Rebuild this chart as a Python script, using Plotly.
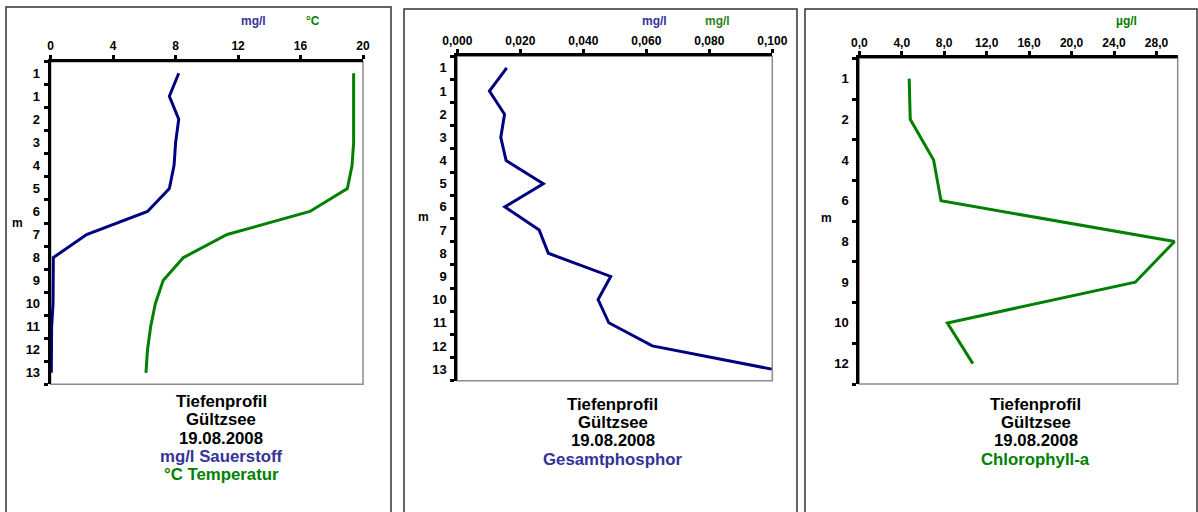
import plotly.graph_objects as go

W, H = 1198, 512

# ---------------- data ----------------
depth_labels_1 = ["1", "1", "2", "3", "4", "5", "6", "7", "8", "9", "10", "11", "12", "13"]
sauerstoff = [8.2, 7.6, 8.2, 8.0, 7.9, 7.6, 6.2, 2.3, 0.17, 0.17, 0.15, 0.06, 0.04, 0.04]
temperatur = [19.4, 19.4, 19.4, 19.4, 19.3, 19.0, 16.6, 11.3, 8.5, 7.2, 6.7, 6.4, 6.2, 6.1]

depth_labels_2 = ["1", "1", "2", "3", "4", "5", "6", "7", "8", "9", "10", "11", "12", "13"]
phosphor = [0.0157, 0.0102, 0.0150, 0.0138, 0.0155, 0.0273, 0.0151, 0.0260, 0.0289,
            0.0487, 0.0447, 0.0481, 0.0619, 0.0998]

depth_labels_3 = ["1", "2", "4", "6", "8", "9", "10", "12"]
chlorophyll = [4.7, 4.8, 7.0, 7.7, 29.7, 26.0, 8.3, 10.7]

x1_ticks = [0, 4, 8, 12, 16, 20]
x2_ticks = [0, 0.02, 0.04, 0.06, 0.08, 0.1]
x3_ticks = [0, 4, 8, 12, 16, 20, 24, 28]

NAVY = "#000080"
GREEN = "#008000"
TXT_BLUE = "#333399"
TXT_GREEN = "#008000"
FONT = "Arial, Liberation Sans, sans-serif"


def px(x):
    return x / W


def py(y):
    return 1 - y / H


fig = go.Figure()

fig.add_trace(go.Scatter(x=sauerstoff, y=list(range(len(depth_labels_1))), mode="lines",
                         line=dict(color=NAVY, width=3), xaxis="x", yaxis="y"))
fig.add_trace(go.Scatter(x=temperatur, y=list(range(len(depth_labels_1))), mode="lines",
                         line=dict(color=GREEN, width=3), xaxis="x", yaxis="y"))
fig.add_trace(go.Scatter(x=phosphor, y=list(range(len(depth_labels_2))), mode="lines",
                         line=dict(color=NAVY, width=3), xaxis="x2", yaxis="y2"))
fig.add_trace(go.Scatter(x=chlorophyll, y=list(range(len(depth_labels_3))), mode="lines",
                         line=dict(color=GREEN, width=3), xaxis="x3", yaxis="y3"))

tickfont = dict(family=FONT, size=12, color="black", weight="bold")


def xaxis(domain, rng, tickvals, fmt, anchor):
    return dict(domain=domain, range=rng, side="top", anchor=anchor, automargin=False,
                tickvals=tickvals, tickformat=fmt,
                showline=True, linecolor="black", linewidth=3,
                ticks="outside", ticklen=4, tickwidth=3, tickcolor="black",
                showgrid=False, zeroline=False, tickfont=tickfont, fixedrange=True)


def yaxis(domain, labels, anchor):
    n = len(labels)
    return dict(domain=domain, range=[n - 0.5, -0.5], anchor=anchor, automargin=False,
                tickvals=list(range(n)), ticktext=labels, ticks="",
                ticklabelstandoff=5,
                minor=dict(tickvals=[i - 0.5 for i in range(n + 1)], ticks="outside",
                           ticklen=4, tickwidth=3, tickcolor="black"),
                showline=True, linecolor="black", linewidth=3,
                showgrid=False, zeroline=False,
                tickfont=dict(family=FONT, size=13, color="black", weight="bold"),
                fixedrange=True)


p1 = dict(x0=50.7, x1=363, y0=61.7, y1=384.3)
p2 = dict(x0=457.3, x1=772.3, y0=56.3, y1=380.7)
p3 = dict(x0=859.3, x1=1177.7, y0=58.3, y1=384.0)

fig.update_layout(
    width=W, height=H, autosize=False, margin=dict(l=0, r=0, t=0, b=0, pad=0),
    paper_bgcolor="white", plot_bgcolor="white", showlegend=False,
    separators=",.",
    xaxis=xaxis([px(p1["x0"]), px(p1["x1"])], [0, 20], x1_ticks, "d", "y"),
    yaxis=yaxis([py(p1["y1"]), py(p1["y0"])], depth_labels_1, "x"),
    xaxis2=xaxis([px(p2["x0"]), px(p2["x1"])], [0, 0.1], x2_ticks, ".3f", "y2"),
    yaxis2=yaxis([py(p2["y1"]), py(p2["y0"])], depth_labels_2, "x2"),
    xaxis3=xaxis([px(p3["x0"]), px(p3["x1"])], [0, 30], x3_ticks, ".1f", "y3"),
    yaxis3=yaxis([py(p3["y1"]), py(p3["y0"])], depth_labels_3, "x3"),
)

shapes = []
# plot-area borders (gray, right & bottom visible)
for xr, yr in [("x", "y"), ("x2", "y2"), ("x3", "y3")]:
    shapes.append(dict(type="rect", xref=f"{xr} domain", yref=f"{yr} domain",
                       x0=0, x1=1, y0=0, y1=1, line=dict(color="#8c8c8c", width=1.5),
                       layer="below"))
# outer panel frames
for (x0, x1, y0) in [(6, 391, 7), (404, 797, 9), (805, 1197, 9)]:
    shapes.append(dict(type="rect", xref="paper", yref="paper",
                       x0=px(x0), x1=px(x1), y0=py(530), y1=py(y0),
                       line=dict(color="#333333", width=1.5), layer="below"))
fig.update_layout(shapes=shapes)

ann = []


def text(x, y, s, color="black", size=12):
    ann.append(dict(x=px(x), y=py(y), xref="paper", yref="paper", text=s, showarrow=False,
                    xanchor="center", yanchor="middle",
                    font=dict(family=FONT, size=size, color=color, weight="bold")))


# units
text(253, 21, "mg/l", TXT_BLUE)
text(313, 21, "°C", TXT_GREEN)
text(654, 21, "mg/l", TXT_BLUE)
text(717, 21, "mg/l", "#2f7f1f")
text(1126, 21, "µg/l", TXT_GREEN)
# m labels
text(17, 223, "m")
text(423, 217, "m")
text(826, 218, "m")

# captions
CAP = 16.8
cap1 = [("Tiefenprofil", "black"), ("Gültzsee", "black"), ("19.08.2008", "black"),
        ("mg/l Sauerstoff", TXT_BLUE), ("°C Temperatur", TXT_GREEN)]
for i, (s, c) in enumerate(cap1):
    text(221, 401.7 + i * 18.2, s, c, CAP)
cap2 = [("Tiefenprofil", "black"), ("Gültzsee", "black"), ("19.08.2008", "black"),
        ("Gesamtphosphor", TXT_BLUE)]
for i, (s, c) in enumerate(cap2):
    text(612.5, 404 + i * 18.4, s, c, CAP)
cap3 = [("Tiefenprofil", "black"), ("Gültzsee", "black"), ("19.08.2008", "black"),
        ("Chlorophyll-a", TXT_GREEN)]
for i, (s, c) in enumerate(cap3):
    text(1035.5, 404 + i * 18.4, s, c, CAP)

fig.update_layout(annotations=ann)

post = ("document.body.style.margin='0';document.body.style.padding='0';"
        "document.body.style.overflow='hidden';"
        "document.documentElement.style.overflow='hidden';")
fig.write_html("out.html", config=dict(displayModeBar=False, responsive=False), post_script=post)
